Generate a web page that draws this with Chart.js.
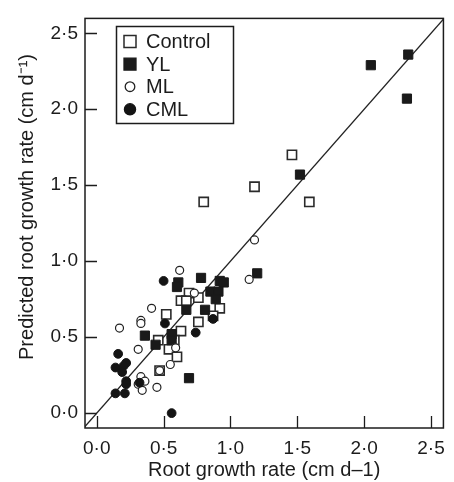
<!DOCTYPE html>
<html><head><meta charset="utf-8">
<script src="https://cdn.jsdelivr.net/npm/chart.js@4.4.1/dist/chart.umd.min.js"></script>
<style>html,body{margin:0;padding:0;background:#fff;}</style>
</head><body>
<canvas id="c" width="454" height="482"></canvas>
<script>
// ---- data ----
const controlX = [1.46, 1.18, 0.80, 1.59, 0.69, 0.76, 0.63, 0.67, 0.92, 0.87, 0.52, 0.76, 0.63, 0.46, 0.58, 0.54, 0.60, 0.47];
const controlY = [1.70, 1.49, 1.39, 1.39, 0.79, 0.76, 0.74, 0.74, 0.69, 0.64, 0.65, 0.60, 0.54, 0.48, 0.48, 0.42, 0.37, 0.28];
const ylX = [2.05, 2.33, 2.32, 1.52, 1.20, 0.61, 0.60, 0.78, 0.92, 0.95, 0.85, 0.91, 0.89, 0.81, 0.67, 0.36, 0.56, 0.44, 0.56, 0.69];
const ylY = [2.29, 2.36, 2.07, 1.57, 0.92, 0.86, 0.83, 0.89, 0.87, 0.86, 0.80, 0.80, 0.75, 0.68, 0.68, 0.51, 0.52, 0.45, 0.48, 0.23];
const mlX = [1.18, 0.62, 1.14, 0.73, 0.41, 0.33, 0.33, 0.17, 0.31, 0.59, 0.55, 0.47, 0.33, 0.36, 0.31, 0.34, 0.45];
const mlY = [1.14, 0.94, 0.88, 0.79, 0.69, 0.61, 0.59, 0.56, 0.42, 0.43, 0.32, 0.28, 0.24, 0.21, 0.19, 0.15, 0.17];
const cmlX = [0.50, 0.51, 0.87, 0.74, 0.16, 0.22, 0.14, 0.20, 0.19, 0.22, 0.22, 0.32, 0.14, 0.21, 0.56];
const cmlY = [0.87, 0.59, 0.62, 0.53, 0.39, 0.33, 0.30, 0.31, 0.27, 0.21, 0.19, 0.20, 0.13, 0.13, 0.00];
const lineX = [-0.1, 2.7];
const lineY = [-0.1, 2.7];
const xTicks = [0, 0.5, 1, 1.5, 2, 2.5];
const yTicks = [0, 0.5, 1, 1.5, 2, 2.5];
const xTickLabels = ['0·0', '0·5', '1·0', '1·5', '2·0', '2·5'];
const yTickLabels = ['0·0', '0·5', '1·0', '1·5', '2·0', '2·5'];
const seriesNames = ['Control', 'YL', 'ML', 'CML'];
const xTitle = 'Root growth rate (cm d–1)';
const yTitle = 'Predicted root growth rate (cm d⁻¹)';

const pts = (xs, ys) => xs.map((x, i) => ({x, y: ys[i]}));
const FONT = "'Liberation Sans', Arial, Helvetica, sans-serif";
const INK = '#1c1c1c';

const styles = [
  {pointStyle: 'rect', radius: 6.5, bg: '#ffffff', border: '#2a2a2a', bw: 1.6},
  {pointStyle: 'rect', radius: 6.5, bg: '#1a1a1a', border: '#1a1a1a', bw: 1},
  {pointStyle: 'circle', radius: 4, bg: '#ffffff', border: '#222222', bw: 1.2},
  {pointStyle: 'circle', radius: 4.4, bg: '#141414', border: '#141414', bw: 1}
];
const series = [pts(controlX, controlY), pts(ylX, ylY), pts(mlX, mlY), pts(cmlX, cmlY)];

const datasets = series.map((d, i) => ({
  type: 'scatter', label: seriesNames[i], data: d,
  pointStyle: styles[i].pointStyle, pointRadius: styles[i].radius,
  backgroundColor: styles[i].bg, borderColor: styles[i].border, borderWidth: styles[i].bw,
  order: 4 - i
}));
datasets.push({
  type: 'line', label: '1:1', data: pts(lineX, lineY),
  borderColor: '#222', borderWidth: 1.3, pointRadius: 0, fill: false, clip: 0, order: 10
});

const framePlugin = {
  id: 'frame',
  afterDatasetsDraw(chart) {
    const ctx = chart.ctx, a = chart.chartArea;
    const xs = chart.scales.x, ys = chart.scales.y;
    ctx.save();
    ctx.strokeStyle = INK; ctx.lineWidth = 1.5;
    ctx.strokeRect(a.left, a.top, a.right - a.left, a.bottom - a.top);
    ctx.beginPath();
    xs.ticks.forEach(t => {
      const px = Math.round(xs.getPixelForValue(t.value)) + 0.5;
      ctx.moveTo(px, a.bottom); ctx.lineTo(px, a.bottom - 12);
    });
    ys.ticks.forEach(t => {
      const py = Math.round(ys.getPixelForValue(t.value)) + 0.5;
      ctx.moveTo(a.left, py); ctx.lineTo(a.left + 12, py);
    });
    ctx.lineWidth = 1.3; ctx.stroke();

    // y axis title
    ctx.save();
    ctx.translate(27, 207);
    ctx.rotate(-Math.PI / 2);
    ctx.font = '20px ' + FONT;
    ctx.fillStyle = INK; ctx.textAlign = 'center'; ctx.textBaseline = 'middle';
    ctx.fillText(yTitle, 0, 0);
    ctx.restore();

    // legend
    const bx = 116.5, by = 26.5, bw = 117, bh = 97;
    ctx.fillStyle = '#fff';
    ctx.fillRect(bx, by, bw, bh);
    ctx.lineWidth = 1.5; ctx.strokeStyle = INK;
    ctx.strokeRect(bx, by, bw, bh);
    ctx.font = '20px ' + FONT;
    ctx.textBaseline = 'middle'; ctx.textAlign = 'left';
    seriesNames.forEach((name, i) => {
      const cy = 41.5 + i * 22.6, cx = 130;
      const s = styles[i];
      ctx.beginPath();
      if (s.pointStyle === 'rect') {
        ctx.rect(cx - 6, cy - 6, 12, 12);
      } else {
        ctx.arc(cx, cy, i === 2 ? 4.8 : 5.6, 0, Math.PI * 2);
      }
      ctx.fillStyle = s.bg; ctx.fill();
      ctx.lineWidth = i === 0 ? 1.5 : 1.3; ctx.strokeStyle = s.border; ctx.stroke();
      ctx.fillStyle = INK;
      ctx.fillText(name, 146, cy + 1);
    });
    ctx.restore();
  }
};

new Chart(document.getElementById('c'), {
  data: {datasets},
  options: {
    responsive: false, animation: false, devicePixelRatio: 1, events: [],
    layout: {padding: {top: 14, right: 2, left: 0, bottom: 0}},
    plugins: {legend: {display: false}, tooltip: {enabled: false}},
    scales: {
      x: {
        type: 'linear', min: -0.088, max: 2.593,
        afterBuildTicks: s => { s.ticks = xTicks.map(v => ({value: v})); },
        afterFit: s => { s.height = 54; },
        grid: {display: false, drawTicks: false}, border: {display: false},
        ticks: {padding: 9, color: INK, font: {family: FONT, size: 19},
          callback: (v) => xTickLabels[xTicks.indexOf(v)]},
        title: {display: true, text: xTitle, color: INK,
          font: {family: FONT, size: 20}, padding: {top: 4, bottom: 0}}
      },
      y: {
        type: 'linear', min: -0.098, max: 2.598,
        afterBuildTicks: s => { s.ticks = yTicks.map(v => ({value: v})); },
        afterFit: s => { s.width = 85; },
        grid: {display: false, drawTicks: false}, border: {display: false},
        ticks: {padding: 7, color: INK, font: {family: FONT, size: 19},
          callback: (v) => yTickLabels[yTicks.indexOf(v)]},
        title: {display: false}
      }
    }
  },
  plugins: [framePlugin]
});
</script>
</body></html>
